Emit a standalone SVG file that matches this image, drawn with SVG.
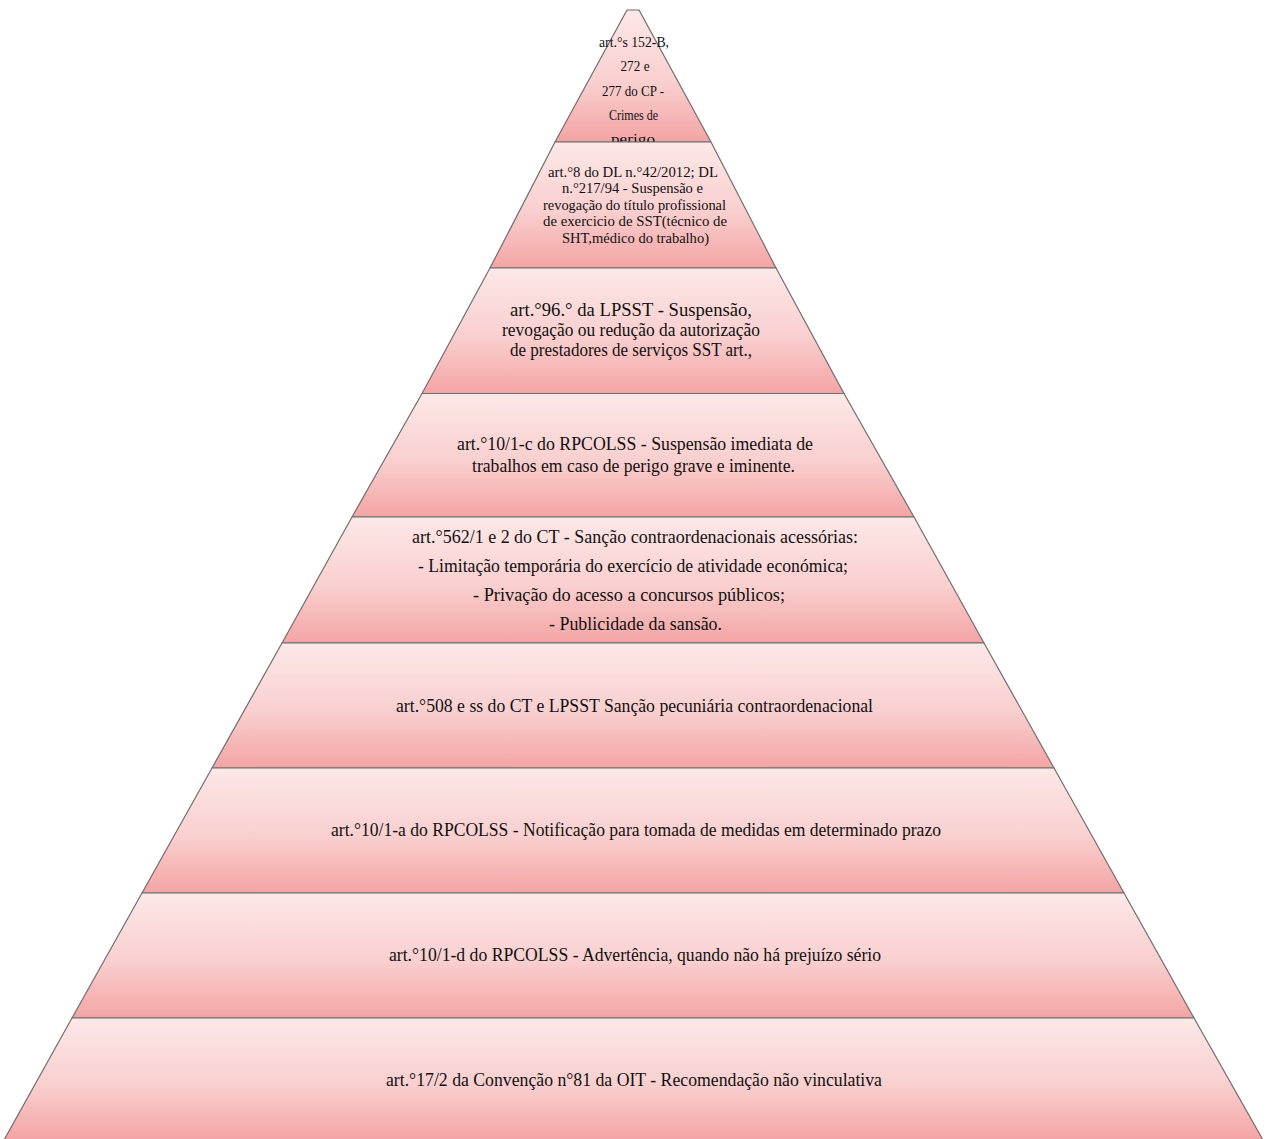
<svg xmlns="http://www.w3.org/2000/svg" width="1266" height="1139" viewBox="0 0 1266 1139">
<defs>
<linearGradient id="g" x1="0" y1="0" x2="0" y2="1">
<stop offset="0" stop-color="#fde8e8"/>
<stop offset="0.55" stop-color="#f9cfcf"/>
<stop offset="1" stop-color="#f4a4a4"/>
</linearGradient>
<style>
.lay{fill:url(#g);stroke:#6e6e6e;stroke-width:1.2;stroke-linejoin:round}
text{font-family:"Liberation Serif","Times New Roman",serif;fill:#111;text-anchor:middle}
.s1{font-size:14.5px}
.s2{font-size:14px}
.s3{font-size:18.5px}
.s4{font-size:18px}
</style>
</defs>
<rect width="1266" height="1139" fill="#ffffff"/>
<g id="layer1">
<polygon class="lay" points="627,10 639,10 711,142 555,142"/>
<text class="s1" x="634" y="46.5" textLength="70" lengthAdjust="spacingAndGlyphs">art.°s 152-B,</text>
<text class="s1" x="635" y="71" textLength="29" lengthAdjust="spacingAndGlyphs">272 e</text>
<text class="s1" x="633" y="95.5" textLength="62" lengthAdjust="spacingAndGlyphs">277 do CP -</text>
<text class="s1" x="633.5" y="120" textLength="49" lengthAdjust="spacingAndGlyphs">Crimes de</text>
<text class="s1" x="633" y="144" textLength="44" lengthAdjust="spacingAndGlyphs">perigo</text>
</g>
<g id="layer2">
<polygon class="lay" points="555,142 711,142 776,268 490,268"/>
<text class="s2" x="633" y="176.6" textLength="170" lengthAdjust="spacingAndGlyphs">art.°8 do DL n.°42/2012; DL</text>
<text class="s2" x="632.5" y="193.1" textLength="141" lengthAdjust="spacingAndGlyphs">n.°217/94 - Suspensão e</text>
<text class="s2" x="634.5" y="209.6" textLength="183" lengthAdjust="spacingAndGlyphs">revogação do título profissional</text>
<text class="s2" x="635" y="226.1" textLength="184" lengthAdjust="spacingAndGlyphs">de exercicio de SST(técnico de</text>
<text class="s2" x="635.5" y="242.6" textLength="147" lengthAdjust="spacingAndGlyphs">SHT,médico do trabalho)</text>
</g>
<g id="layer3">
<polygon class="lay" points="490,268 776,268 844,393.5 422,393.5"/>
<text class="s3" x="631" y="316" textLength="242" lengthAdjust="spacingAndGlyphs">art.°96.° da LPSST - Suspensão,</text>
<text class="s3" x="631" y="336" textLength="258" lengthAdjust="spacingAndGlyphs">revogação ou redução da autorização</text>
<text class="s3" x="631" y="356" textLength="242" lengthAdjust="spacingAndGlyphs">de prestadores de serviços SST art.,</text>
</g>
<g id="layer4">
<polygon class="lay" points="422,393.5 844,393.5 914,517 352,517"/>
<text class="s4" x="635" y="450" textLength="356" lengthAdjust="spacingAndGlyphs">art.°10/1-c do RPCOLSS - Suspensão imediata de</text>
<text class="s4" x="633.5" y="472" textLength="323" lengthAdjust="spacingAndGlyphs">trabalhos em caso de perigo grave e iminente.</text>
</g>
<g id="layer5">
<polygon class="lay" points="352,517 914,517 984,643 282,643"/>
<text class="s4" x="635" y="542.5" textLength="446" lengthAdjust="spacingAndGlyphs">art.°562/1 e 2 do CT - Sanção contraordenacionais acessórias:</text>
<text class="s4" x="633" y="571.5" textLength="430" lengthAdjust="spacingAndGlyphs">- Limitação temporária do exercício de atividade económica;</text>
<text class="s4" x="629" y="600.5" textLength="312" lengthAdjust="spacingAndGlyphs">- Privação do acesso a concursos públicos;</text>
<text class="s4" x="635.5" y="629.5" textLength="173" lengthAdjust="spacingAndGlyphs">- Publicidade da sansão.</text>
</g>
<g id="layer6">
<polygon class="lay" points="282,643 984,643 1054,768 212,768"/>
<text class="s4" x="634.5" y="712" textLength="477" lengthAdjust="spacingAndGlyphs">art.°508 e ss do CT e LPSST Sanção pecuniária contraordenacional</text>
</g>
<g id="layer7">
<polygon class="lay" points="212,768 1054,768 1124,893 142,893"/>
<text class="s4" x="636" y="836" textLength="610" lengthAdjust="spacingAndGlyphs">art.°10/1-a do RPCOLSS - Notificação para tomada de medidas em determinado prazo</text>
</g>
<g id="layer8">
<polygon class="lay" points="142,893 1124,893 1194,1018 72,1018"/>
<text class="s4" x="635" y="961" textLength="492" lengthAdjust="spacingAndGlyphs">art.°10/1-d do RPCOLSS - Advertência, quando não há prejuízo sério</text>
</g>
<g id="layer9">
<polygon class="lay" points="72,1018 1194,1018 1263,1140 4,1140"/>
<text class="s4" x="634" y="1086" textLength="496" lengthAdjust="spacingAndGlyphs">art.°17/2 da Convenção n°81 da OIT - Recomendação não vinculativa</text>
</g>
</svg>
